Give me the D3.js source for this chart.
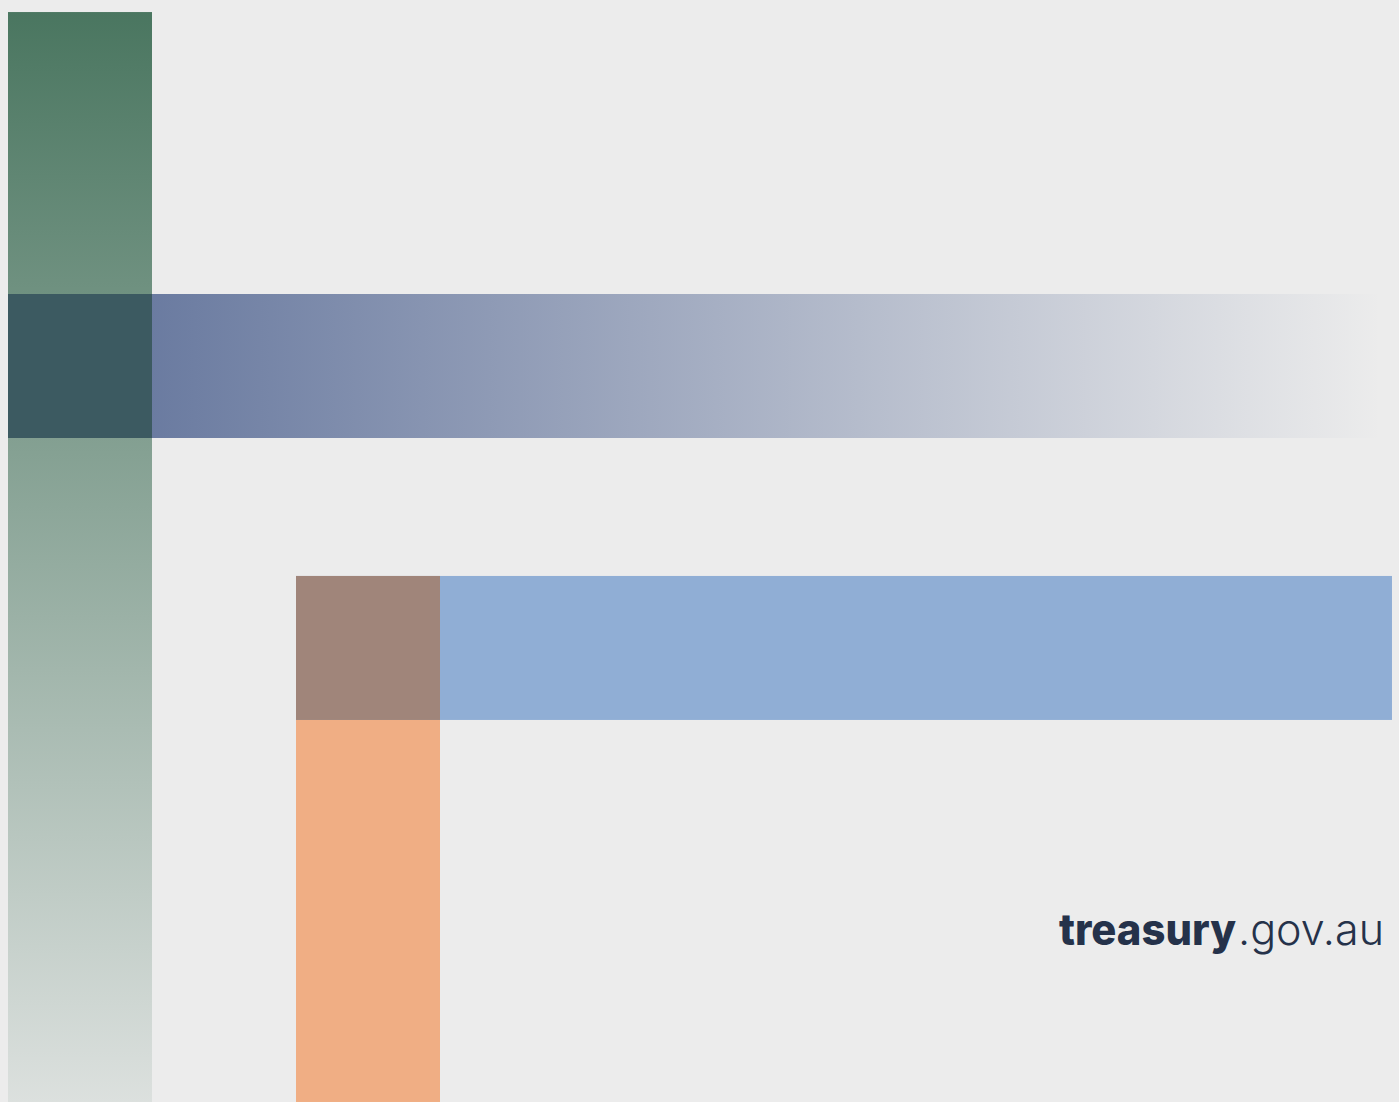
<!DOCTYPE html>
<html>
<head>
<meta charset="utf-8">
<script src="https://cdn.jsdelivr.net/npm/d3@7"></script>
<style>
  html, body { margin: 0; padding: 0; background: #ececec; overflow: hidden; }
  svg { display: block; }
</style>
</head>
<body>
<svg id="chart"></svg>
<script>
// bands, in grid units of one band width (144px)
var bandNames = ["green", "navy", "blue", "orange"];
var bandOrient = ["v", "h", "h", "v"];
var bandFrom = [-1.958, 1, 2, 2.958];   // v: top row, h: left column
var bandTo = [5.611, 9.53, 9.611, 5.611]; // v: bottom row, h: right column
var bandLane = [0, 0, 1.958, 2];        // v: column, h: top row
var bandColors = ["#4a7660", "#506491", "#90aed5", "#f0ae84"];
var bandOpacityFrom = [1, 0.83, 1, 1];
var bandOpacityTo = [0.1, 0, 1, 1];
var overlapColors = ["#3c5a61", "#a0857a"];
var brandBold = ["treasury"];
var brandLight = [".gov.au"];

var width = 1399, height = 1102;

var svg = d3.select("#chart")
    .attr("width", width)
    .attr("height", height);

var x = d3.scaleLinear().domain([0, 1]).range([8, 152]);
var y = d3.scaleLinear().domain([0, 1]).range([294, 438]);

svg.append("rect")
    .attr("width", width)
    .attr("height", height)
    .attr("fill", "#ececec");

var defs = svg.append("defs");

bandNames.forEach(function(name, i) {
    var g = defs.append("linearGradient")
        .attr("id", "grad-" + name)
        .attr("x1", 0).attr("y1", 0)
        .attr("x2", bandOrient[i] === "h" ? 1 : 0)
        .attr("y2", bandOrient[i] === "v" ? 1 : 0);
    g.append("stop").attr("offset", "0%")
        .attr("stop-color", bandColors[i]).attr("stop-opacity", bandOpacityFrom[i]);
    g.append("stop").attr("offset", "100%")
        .attr("stop-color", bandColors[i]).attr("stop-opacity", bandOpacityTo[i]);
});

var rects = bandNames.map(function(d, i) {
    if (bandOrient[i] === "v") {
        return { x: x(bandLane[i]), y: y(bandFrom[i]),
                 w: x(bandLane[i] + 1) - x(bandLane[i]), h: y(bandTo[i]) - y(bandFrom[i]) };
    }
    return { x: x(bandFrom[i]), y: y(bandLane[i]),
             w: x(bandTo[i]) - x(bandFrom[i]), h: y(bandLane[i] + 1) - y(bandLane[i]) };
});

svg.selectAll(".band")
    .data(bandNames)
  .enter().append("rect")
    .attr("class", "band")
    .attr("x", function(d, i) { return rects[i].x; })
    .attr("y", function(d, i) { return rects[i].y; })
    .attr("width", function(d, i) { return rects[i].w; })
    .attr("height", function(d, i) { return rects[i].h; })
    .attr("fill", function(d) { return "url(#grad-" + d + ")"; });

// crossing squares: green x navy row, orange x blue row
var overlaps = [[0, 1], [3, 2]];
svg.selectAll(".overlap")
    .data(overlaps)
  .enter().append("rect")
    .attr("class", "overlap")
    .attr("x", function(d) { return rects[d[0]].x; })
    .attr("y", function(d) { return rects[d[1]].y; })
    .attr("width", function(d) { return rects[d[0]].w; })
    .attr("height", function(d) { return rects[d[1]].h; })
    .attr("fill", function(d, i) { return overlapColors[i]; });

// brand text
var brand = svg.append("text")
    .attr("y", 945)
    .attr("fill", "#25324a")
    .style("font-family", "Inter, Lato, sans-serif")
    .style("font-size", "43px");

brand.append("tspan")
    .attr("x", 1059)
    .attr("textLength", 177)
    .attr("lengthAdjust", "spacingAndGlyphs")
    .style("font-weight", 800)
    .text(brandBold[0]);
brand.append("tspan")
    .attr("x", 1238)
    .attr("textLength", 146)
    .attr("lengthAdjust", "spacingAndGlyphs")
    .style("font-weight", 300)
    .text(brandLight[0]);
</script>
</body>
</html>
